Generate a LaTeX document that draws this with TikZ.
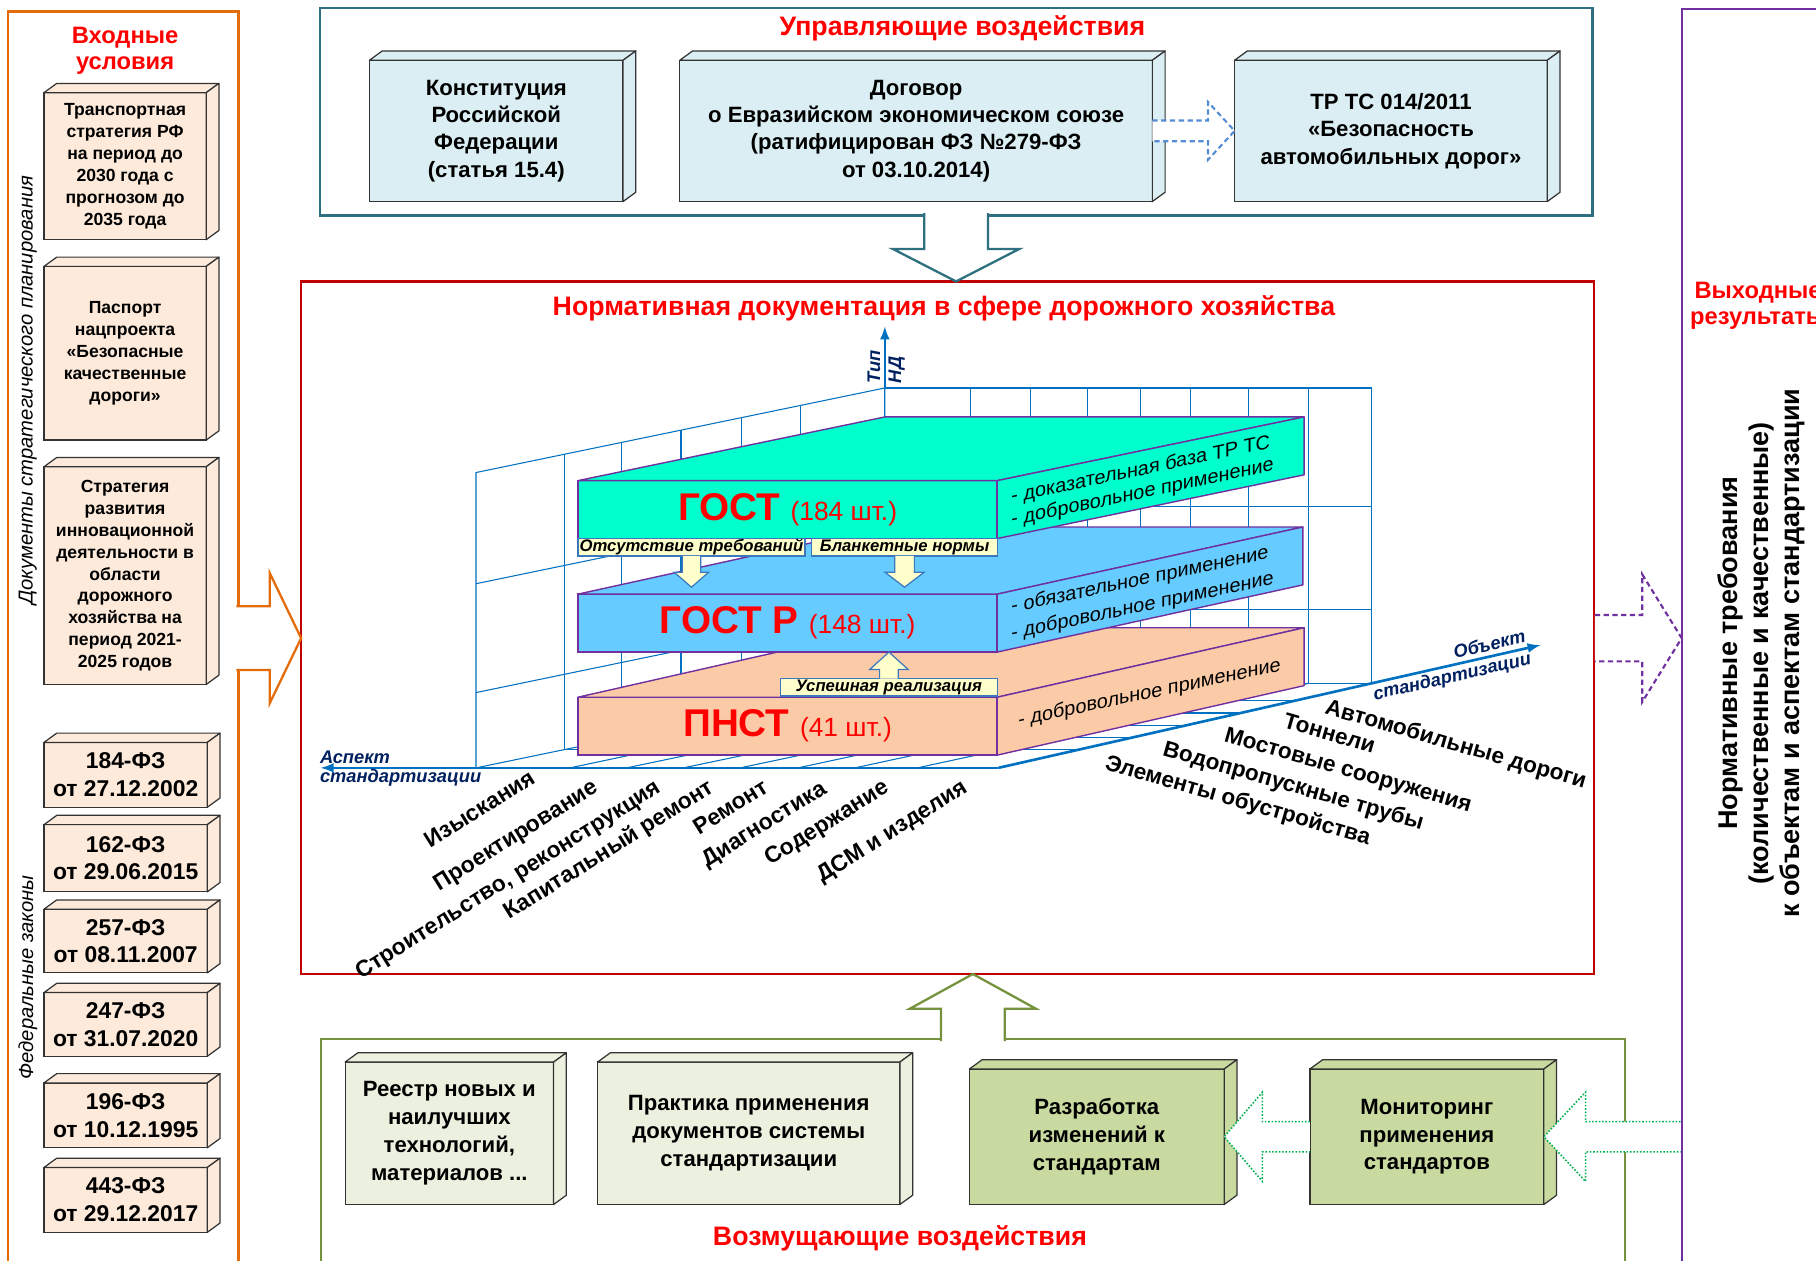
\documentclass[tikz,border=0pt]{standalone}
\usepackage{fontspec}
\setmainfont{Liberation Sans}
\usepackage{tikz}
\usetikzlibrary{calc,arrows,positioning}

\definecolor{orangeframe}{RGB}{228,108,10}
\definecolor{tealframe}{RGB}{47,112,128}
\definecolor{redframe}{RGB}{192,0,0}
\definecolor{purpleframe}{RGB}{112,48,160}
\definecolor{greenframe}{RGB}{118,146,60}
\definecolor{titlered}{RGB}{255,0,0}
\definecolor{leftfill}{RGB}{253,234,218}
\definecolor{topfill}{RGB}{218,238,243}
\definecolor{botfill}{RGB}{235,241,222}
\definecolor{botdark}{RGB}{200,218,160}
\definecolor{gostcol}{RGB}{0,255,204}
\definecolor{gostrcol}{RGB}{102,204,255}
\definecolor{pnstcol}{RGB}{250,203,166}
\definecolor{gridblue}{RGB}{0,112,192}
\definecolor{navy}{RGB}{0,32,96}
\definecolor{yellowfill}{RGB}{255,255,204}
\definecolor{yellowedge}{RGB}{60,120,190}
\definecolor{dotblue}{RGB}{84,141,212}
\definecolor{dotgreen}{RGB}{0,176,80}

\newcommand{\unitpx}{0.02316cm}
\newcommand{\fsz}[2]{\fontsize{#1}{#2}\selectfont}

\tikzstyle{cubeface} = [rectangle, draw=black!80, line width=0.7pt, align=center, inner sep=0pt, outer sep=0pt]
\tikzstyle{cubeside} = [draw=black!80, line width=0.7pt, line join=round]
\tikzstyle{frameline} = [rectangle, line width=1.3pt, inner sep=0pt, outer sep=0pt]
\tikzstyle{redtitle} = [text=titlered, font=\bfseries\fsz{15.2}{16}, align=center, inner sep=0pt]
\tikzstyle{sidetitle} = [text=titlered, font=\bfseries\fsz{13.5}{14.5}, align=center, inner sep=0pt]
\tikzstyle{gridline} = [draw=gridblue, line width=0.6pt]
\tikzstyle{ndaxis} = [draw=gridblue, line width=1.5pt, ->, >=latex]
\tikzstyle{ndblock} = [rectangle, draw=purpleframe, line width=0.8pt, inner sep=0pt, outer sep=0pt, text=titlered]
\tikzstyle{ndface} = [draw=purpleframe, line width=0.8pt, line join=round]
\tikzstyle{facetext} = [anchor=base west, inner sep=0pt, yslant=0.21, font=\fsz{11.3}{13}]
\tikzstyle{yellowbox} = [rectangle, draw=yellowedge, fill=yellowfill, line width=0.7pt, inner sep=0pt, outer sep=0pt, font=\bfseries\itshape\fsz{9.5}{10}]
\tikzstyle{yellowarrow} = [draw=yellowedge, fill=yellowfill, line width=0.7pt, line join=miter]
\tikzstyle{aspectlabel} = [anchor=base east, rotate=32, inner sep=0pt, font=\bfseries\fsz{13}{14}]
\tikzstyle{objectlabel} = [anchor=base west, rotate=-16, inner sep=0pt, font=\bfseries\fsz{12.8}{14}]
\tikzstyle{axislabel} = [inner sep=0pt, text=navy, font=\bfseries\itshape\fsz{10.4}{12}]
\tikzstyle{blockarrow} = [line width=1.3pt, fill=white, line join=miter]

% объёмный блок: имя, x1, y1, x2, y2, заливка, шрифт, текст
\newcommand{\docbox}[8]{%
  \node (#1) [cubeface, fill=#6, font=#7, minimum width={(#4-#2)*\unitpx}, minimum height={(#5-#3)*\unitpx}] at ({(#2+#4)/2},{(#3+#5)/2}) {#8};
  \draw[cubeside, fill=#6] (#1.north west) -- ++(11,-8) -- ($(#1.north east)+(11,-8)$) -- (#1.north east) -- cycle;
  \draw[cubeside, fill=#6] (#1.north east) -- ++(11,-8) -- ($(#1.south east)+(11,-8)$) -- (#1.south east) -- cycle;
}

\begin{document}
\begin{tikzpicture}[x=\unitpx, y=-\unitpx]
	\useasboundingbox (0,0) rectangle (1568,1088);
	\clip (0,0) rectangle (1568,1088);
	% Рамки
	\node (inframe) [frameline, draw=orangeframe, minimum width=199*\unitpx, minimum height=1082*\unitpx] at (106.5,551) {};
	\node (ctrl) [frameline, draw=tealframe, minimum width=1099*\unitpx, minimum height=179*\unitpx] at (825.5,96.5) {};
	\node (norm) [frameline, draw=redframe, minimum width=1116*\unitpx, minimum height=598*\unitpx] at (818,542) {};
	\node (dist) [frameline, draw=greenframe, minimum width=1126*\unitpx, minimum height=206*\unitpx] at (840,1000) {};
	\node (outframe) [frameline, draw=purpleframe, minimum width=248*\unitpx, minimum height=1086*\unitpx] at (1576,551) {};
	% Заголовки
	\node (intitle) [sidetitle] at (108,44) {Входные\\условия};
	\node (ctrltitle) [redtitle, anchor=base] at (831,31) {Управляющие воздействия};
	\node (normtitle) [redtitle, anchor=base] at (815,272) {Нормативная документация в сфере дорожного хозяйства};
	\node (disttitle) [redtitle, anchor=base] at (777,1075) {Возмущающие воздействия};
	\node (outtitle) [sidetitle] at (1518,264) {Выходные\\результаты};
	\node (stratlabel) [rotate=90, inner sep=0pt, font=\itshape\fsz{11.5}{13}] at (24,337) {Документы стратегического планирования};
	\node (lawlabel) [rotate=90, inner sep=0pt, font=\itshape\fsz{11.5}{13}] at (24,844) {Федеральные законы};
	\node (outtext) [rotate=90, align=center, inner sep=0pt, font=\bfseries\fsz{15.4}{17.8}] at (1521,564) {Нормативные требования\\(количественные и качественные)\\к объектам и аспектам стандартизации};
	% Входные условия
	\docbox{transp}{38}{80}{178}{207}{leftfill}{\bfseries\fsz{10}{12.5}}{Транспортная\\стратегия РФ\\на период до\\2030 года с\\прогнозом до\\2035 года}
	\docbox{pasport}{38}{230}{178}{380}{leftfill}{\bfseries\fsz{10}{12.5}}{Паспорт\\нацпроекта\\«Безопасные\\качественные\\дороги»}
	\docbox{innov}{38}{403}{178}{591}{leftfill}{\bfseries\fsz{10}{12.4}}{Стратегия\\развития\\инновационной\\деятельности в\\области\\дорожного\\хозяйства на\\период 2021-\\2025 годов}
	\docbox{fz184}{38}{641}{179}{697}{leftfill}{\bfseries\fsz{13}{15.8}}{184-ФЗ\\от 27.12.2002}
	\docbox{fz162}{38}{712}{179}{770}{leftfill}{\bfseries\fsz{13}{15.8}}{162-ФЗ\\от 29.06.2015}
	\docbox{fz257}{38}{785}{179}{840}{leftfill}{\bfseries\fsz{13}{15.8}}{257-ФЗ\\от 08.11.2007}
	\docbox{fz247}{38}{857}{179}{912}{leftfill}{\bfseries\fsz{13}{15.8}}{247-ФЗ\\от 31.07.2020}
	\docbox{fz196}{38}{935}{179}{991}{leftfill}{\bfseries\fsz{13}{15.8}}{196-ФЗ\\от 10.12.1995}
	\docbox{fz443}{38}{1008}{179}{1064}{leftfill}{\bfseries\fsz{13}{15.8}}{443-ФЗ\\от 29.12.2017}
	% Управляющие воздействия
	\docbox{konst}{319}{52}{538}{174}{topfill}{\bfseries\fsz{12.6}{15.6}}{Конституция\\Российской\\Федерации\\(статья 15.4)}
	\docbox{dogovor}{587}{52}{995}{174}{topfill}{\bfseries\fsz{12.6}{15.6}}{Договор\\о Евразийском экономическом союзе\\(ратифицирован ФЗ №279-ФЗ\\от 03.10.2014)}
	\docbox{trts}{1066}{52}{1336}{174}{topfill}{\bfseries\fsz{12.6}{15.6}}{ТР ТС 014/2011\\«Безопасность\\автомобильных дорог»}
	% Возмущающие воздействия
	\docbox{reestr}{298}{917}{478}{1040}{botfill}{\bfseries\fsz{12.6}{15.8}}{Реестр новых и\\наилучших\\технологий,\\материалов ...}
	\docbox{praktika}{516}{917}{777}{1040}{botfill}{\bfseries\fsz{12.6}{15.8}}{Практика применения\\документов системы\\стандартизации}
	\docbox{razrab}{837}{923}{1057}{1040}{botdark}{\bfseries\fsz{12.6}{15.8}}{Разработка\\изменений к\\стандартам}
	\docbox{monitor}{1131}{923}{1333}{1040}{botdark}{\bfseries\fsz{12.6}{15.8}}{Мониторинг\\применения\\стандартов}
	% Стрелки
	\draw[blockarrow, draw=tealframe] ($(ctrl.south)+(-27.5,-2)$) -- ($(ctrl.south)+(-27.5,29)$) -- ($(ctrl.south)+(-54.5,29)$) -- (ctrl.south |- norm.north) -- ($(ctrl.south)+(54.5,29)$) -- ($(ctrl.south)+(27.5,29)$) -- ($(ctrl.south)+(27.5,-2)$);
	\draw[blockarrow, draw=greenframe] ($(dist.north)+(-27.5,2)$) -- ($(dist.north)+(-27.5,-26)$) -- ($(dist.north)+(-54.5,-26)$) -- (dist.north |- norm.south) -- ($(dist.north)+(54.5,-26)$) -- ($(dist.north)+(27.5,-26)$) -- ($(dist.north)+(27.5,2)$);
	\draw[blockarrow, draw=orangeframe] ($(inframe.east)+(-2,-27.5)$) -- ($(inframe.east)+(27,-27.5)$) -- ($(inframe.east)+(27,-56)$) -- (norm.west |- inframe.east) -- ($(inframe.east)+(27,56)$) -- ($(inframe.east)+(27,27.5)$) -- ($(inframe.east)+(-2,27.5)$);
	\draw[blockarrow, draw=purpleframe, line width=1.2pt, dash pattern=on 3pt off 2pt] ($(norm.east |- outframe.west)+(1,-20)$) -- ($(outframe.west)+(-34,-20)$) -- ($(outframe.west)+(-34,-55)$) -- (outframe.west) -- ($(outframe.west)+(-34,55)$) -- ($(outframe.west)+(-34,20)$) -- ($(norm.east |- outframe.west)+(1,20)$);
	\draw[blockarrow, draw=dotblue, line width=1.2pt, densely dashed] ($(dogovor.east)+(0,-9)$) -- ($(trts.west)+(-23,-9)$) -- ($(trts.west)+(-23,-25)$) -- (trts.west) -- ($(trts.west)+(-23,25)$) -- ($(trts.west)+(-23,9)$) -- ($(dogovor.east)+(0,9)$);
	\draw[blockarrow, draw=dotgreen, line width=0.9pt, densely dotted] ($(monitor.west)+(0,-13)$) -- ($(razrab.east)+(33,-13)$) -- ($(razrab.east)+(33,-38.5)$) -- (razrab.east) -- ($(razrab.east)+(33,38.5)$) -- ($(razrab.east)+(33,13)$) -- ($(monitor.west)+(0,13)$);
	\draw[blockarrow, draw=dotgreen, line width=0.9pt, densely dotted] ($(outframe.west |- monitor.east)+(-1,-13)$) -- ($(monitor.east)+(36,-13)$) -- ($(monitor.east)+(36,-38.5)$) -- (monitor.east) -- ($(monitor.east)+(36,38.5)$) -- ($(monitor.east)+(36,13)$) -- ($(outframe.west |- monitor.east)+(-1,13)$);
	% Сетка
	\coordinate (fl) at (411,663);
	\coordinate (fr) at (862,663);
	\coordinate (bl) at (764,590);
	\coordinate (br) at (1184,590);
	\coordinate (tl) at (764,335);
	\coordinate (ftl) at (411,408);
	\draw[gridline] (tl) rectangle (br);
	\draw[gridline] (838,335) -- (838,590) (890,335) -- (890,590) (939,335) -- (939,590) (985,335) -- (985,590) (1028,335) -- (1028,590) (1078,335) -- (1078,590) (1130,335) -- (1130,590);
	\draw[gridline] (764,437) -- (1184,437) (764,526) -- (1184,526);
	\draw[gridline] (ftl) -- (tl) -- (bl) -- (fl) -- cycle;
	\draw[gridline] (487,392.3) -- (487,647.3) (537,381.9) -- (537,636.9) (588,371.4) -- (588,626.4) (640,360.6) -- (640,615.6) (691,350.1) -- (691,605.1);
	\draw[gridline] (411,504) -- (764,431) (411,598) -- (764,525);
	\draw[gridline] (492,663) -- (838,590) (541,663) -- (890,590) (590,663) -- (939,590) (639,663) -- (985,590) (689,663) -- (1028,590) (738,663) -- (1078,590) (792,663) -- (1130,590);
	\draw[gridline] (487,647.3) -- (931.3,647.3) (537,636.9) -- (977.1,636.9) (588,626.4) -- (1023.4,626.4) (640,615.6) -- (1071.1,615.6) (691,605.1) -- (1117.4,605.1);
	% Блоки НД
	\node (pnst) [ndblock, fill=pnstcol, minimum width=362*\unitpx, minimum height=50*\unitpx] at (680,627) {{\bfseries\fsz{22}{24}ПНСТ}\hspace{6pt}{\fsz{15}{17}(41 шт.)}};
	\draw[ndface, fill=pnstcol] (pnst.north west) -- ++(265,-60) -- ($(pnst.north east)+(265,-60)$) -- (pnst.north east) -- cycle;
	\draw[ndface, fill=pnstcol] (pnst.north east) -- ++(265,-60) -- ($(pnst.south east)+(265,-60)$) -- (pnst.south east) -- cycle;
	\node (pnstface) [facetext] at (879,627) {- добровольное применение};
	\node (gostr) [ndblock, fill=gostrcol, minimum width=362*\unitpx, minimum height=50*\unitpx] at (680,538) {{\bfseries\fsz{22}{24}ГОСТ Р}\hspace{6pt}{\fsz{15}{17}(148 шт.)}};
	\draw[ndface, fill=gostrcol] (gostr.north west) -- ++(264,-58) -- ($(gostr.north east)+(264,-58)$) -- (gostr.north east) -- cycle;
	\draw[ndface, fill=gostrcol] (gostr.north east) -- ++(264,-58) -- ($(gostr.south east)+(264,-58)$) -- (gostr.south east) -- cycle;
	\node (gostrface1) [facetext] at (873,529) {- обязательное применение};
	\node (gostrface2) [facetext] at (873,552) {- добровольное применение};
	\node (gost) [ndblock, fill=gostcol, minimum width=362*\unitpx, minimum height=50*\unitpx] at (680,440) {{\bfseries\fsz{22}{24}ГОСТ}\hspace{6pt}{\fsz{15}{17}(184 шт.)}};
	\draw[ndface, fill=gostcol] (gost.north west) -- ++(265,-55) -- ($(gost.north east)+(265,-55)$) -- (gost.north east) -- cycle;
	\draw[ndface, fill=gostcol] (gost.north east) -- ++(265,-55) -- ($(gost.south east)+(265,-55)$) -- (gost.south east) -- cycle;
	\node (gostface1) [facetext] at (873,434) {- доказательная база ТР ТС};
	\node (gostface2) [facetext] at (873,454) {- добровольное применение};
	% Переходы
	\node (otsut) [yellowbox, minimum width=196*\unitpx, minimum height=15*\unitpx] at (597,472.5) {Отсутствие требований};
	\node (blank) [yellowbox, minimum width=160*\unitpx, minimum height=15*\unitpx] at (781,472.5) {Бланкетные нормы};
	\node (uspeh) [yellowbox, minimum width=187*\unitpx, minimum height=15*\unitpx] at (767.5,593.5) {Успешная реализация};
	\draw[yellowarrow] ($(otsut.south)+(-8,0)$) -- ++(0,14) -- ++(-7,0) -- ++(15,13) -- ++(15,-13) -- ++(-7,0) -- ++(0,-14);
	\draw[yellowarrow] ($(blank.south)+(-8.5,0)$) -- ++(0,14) -- ++(-8.5,0) -- ++(17,13) -- ++(17,-13) -- ++(-8.5,0) -- ++(0,-14);
	\draw[yellowarrow] ($(uspeh.north)+(-8,0)$) -- ++(0,-8) -- ++(-8.5,0) -- (uspeh.north |- gostr.south) -- ($(uspeh.north)+(16.5,-8)$) -- ++(-8.5,0) -- ++(0,8);
	% Оси
	\coordinate (aspend) at (277,663);
	\coordinate (objend) at (1330,557);
	\coordinate (typend) at (764,282);
	\draw[ndaxis] (fr) -- (aspend);
	\draw[ndaxis] (fr) -- (objend);
	\draw[ndaxis] (tl) -- (typend);
	\node (typlabel1) [axislabel, rotate=90, anchor=base west] at (760,331) {Тип};
	\node (typlabel2) [axislabel, rotate=90, anchor=base west] at (778,331) {НД};
	\node (asplabel1) [axislabel, anchor=base west] at (276,659) {Аспект};
	\node (asplabel2) [axislabel, anchor=base west] at (276,676) {стандартизации};
	\node (objlabel1) [axislabel, rotate=13] at (1286,556) {Объект};
	\node (objlabel2) [axislabel, rotate=13] at (1254,585) {стандартизации};
	% Аспекты
	\node (a1) [aspectlabel] at (464,675) {Изыскания};
	\node (a2) [aspectlabel] at (518,683) {Проектирование};
	\node (a3) [aspectlabel] at (572,683) {Строительство, реконструкция};
	\node (a4) [aspectlabel] at (618,683) {Капитальный ремонт};
	\node (a5) [aspectlabel] at (665,683) {Ремонт};
	\node (a6) [aspectlabel] at (715,684) {Диагностика};
	\node (a7) [aspectlabel] at (769,683) {Содержание};
	\node (a8) [aspectlabel] at (837,683) {ДСМ и изделия};
	% Объекты
	\node (o1) [objectlabel] at (1143,616) {Автомобильные дороги};
	\node (o2) [objectlabel] at (1107,628) {Тоннели};
	\node (o3) [objectlabel] at (1056,640) {Мостовые сооружения};
	\node (o4) [objectlabel] at (1003,652) {Водопропускные трубы};
	\node (o5) [objectlabel] at (953,664) {Элементы обустройства};
\end{tikzpicture}
\end{document}
